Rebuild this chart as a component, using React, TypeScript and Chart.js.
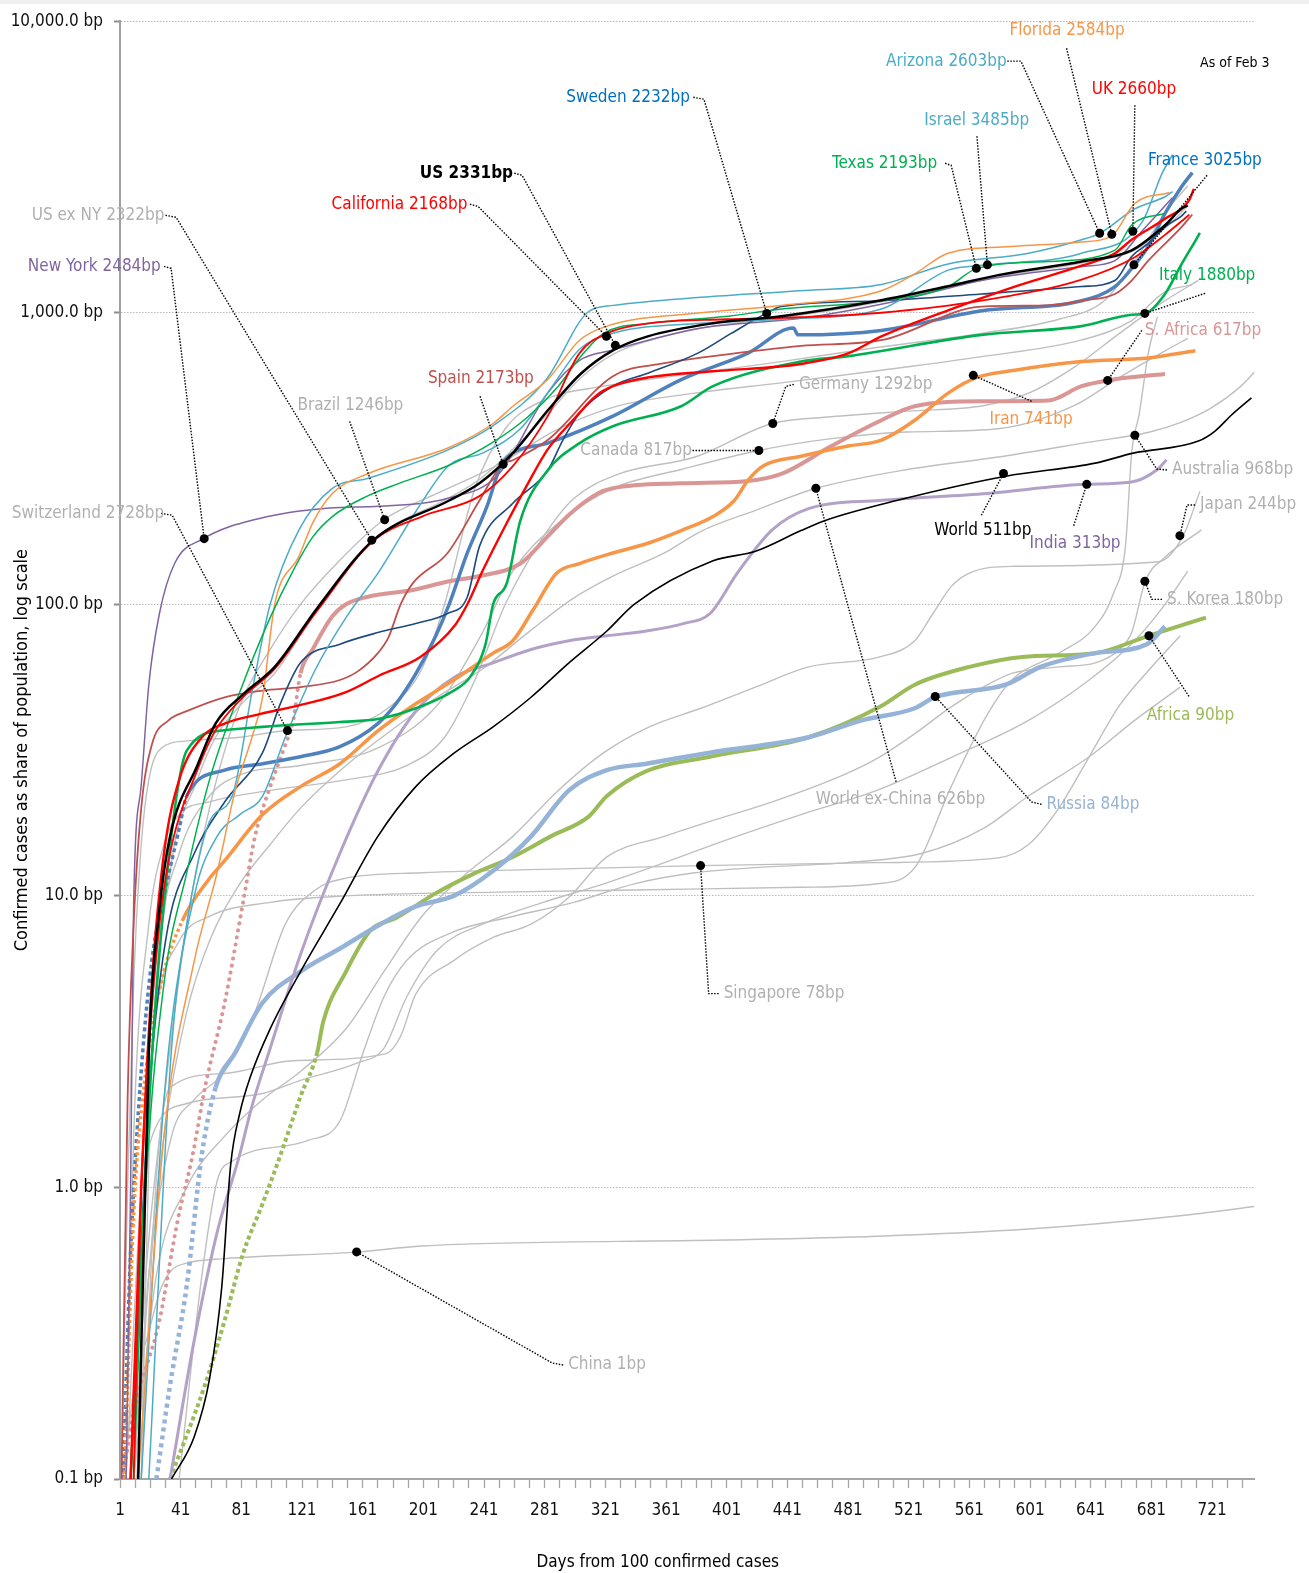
import React, { useEffect, useRef } from "react";
import { Chart, registerables } from "chart.js";

Chart.register(...registerables);

const FONT = "'Liberation Sans Narrow', 'Arial Narrow', 'DejaVu Sans Condensed', sans-serif";
const LABEL_SIZE = 17;

type Pt = [number, number];

// ---------- axis ----------
const X_MIN = 1;
const X_MAX = 749;
const X_TICK_STEP = 10;
const X_LABEL_STEP = 40;
const Y_TICKS = [0.1, 1, 10, 100, 1000, 10000];
const X_TITLE = "Days from 100 confirmed cases";
const Y_TITLE = "Confirmed cases as share of population, log scale";
const AS_OF = "As of Feb 3";

// ---------- series: [day, basis points] ----------
const US: Pt[] = [[13,0.1],[20,2.9],[27,9],[34,16],[52,28],[64,39],[82,49],[103,61],[131,97],[168,166],[218,227],[238,260],[260,330],[283,462],[305,619],[326,743],[349,830],[392,920],[437,973],[503,1104],[547,1233],[580,1346],[635,1500],[668,1637],[690,1995],[701,2281],[705,2331]];
const US_EX_NY: Pt[] = [[15,0.1],[21,2],[34,12],[52,25],[64,35],[82,46],[103,58],[131,96],[168,166],[218,232],[238,268],[260,340],[283,450],[305,600],[326,720],[349,800],[392,900],[437,960],[503,1090],[547,1220],[580,1330],[635,1480],[668,1620],[690,1950],[705,2322]];
const NEW_YORK: Pt[] = [[5,0.1],[8,1],[10,9.4],[15,24],[20,53],[27,93],[37,138],[56,168],[93,197],[139,214],[172,217],[217,231],[250,277],[283,530],[304,687],[326,745],[384,886],[450,957],[514,1100],[569,1290],[635,1440],[657,1510],[675,1910],[693,2420],[695,2484]];
const CALIFORNIA: Pt[] = [[10,0.1],[15,1],[20,3],[27,8],[34,14],[52,27],[64,37],[82,48],[103,60],[131,95],[168,165],[200,200],[238,235],[260,298],[283,442],[304,727],[322,850],[350,920],[400,950],[450,965],[503,1000],[569,1100],[635,1300],[670,1550],[690,1850],[706,2168]];
const TEXAS: Pt[] = [[10,0.1],[18,1],[30,5],[45,12],[60,25],[80,50],[100,90],[115,130],[128,170],[141,200],[164,235],[185,260],[218,300],[247,360],[270,440],[290,560],[304,700],[320,850],[350,920],[400,970],[437,1030],[503,1100],[547,1230],[566,1420],[613,1500],[657,1640],[668,2000],[690,2193]];
const FLORIDA: Pt[] = [[13,0.1],[30,1.5],[50,6],[65,12],[77,23],[88,35],[95,48],[103,100],[119,146],[128,190],[141,240],[164,280],[218,345],[247,417],[260,478],[283,590],[304,805],[322,900],[384,1000],[437,1060],[503,1190],[525,1360],[547,1600],[591,1690],[635,1750],[655,1840],[670,2370],[693,2584]];
const ARIZONA: Pt[] = [[15,0.1],[30,2],[45,8],[60,18],[75,22],[88,50],[100,100],[119,180],[141,250],[164,270],[218,340],[247,410],[282,590],[310,1010],[326,1060],[384,1130],[449,1190],[503,1250],[547,1470],[600,1600],[635,1780],[647,1873],[670,2270],[690,2500],[695,2603]];
const ISRAEL: Pt[] = [[20,0.1],[35,3],[50,10],[65,16],[80,19],[95,22],[110,35],[130,60],[150,90],[172,130],[199,220],[218,300],[240,330],[265,400],[285,550],[304,750],[326,850],[384,920],[437,950],[503,1030],[547,1400],[573,1460],[635,1600],[675,2050],[688,3000],[695,3485]];
const SWEDEN: Pt[] = [[8,0.1],[20,2],[31,7],[50,14],[70,21],[95,31],[107,46],[120,63],[146,73],[171,80],[196,86],[217,93],[230,106],[238,158],[260,222],[283,288],[293,366],[304,452],[326,560],[349,620],[382,727],[404,850],[427,995],[437,1050],[503,1100],[569,1160],[635,1230],[657,1290],[668,1560],[679,1730],[690,1970],[701,2150],[704,2232]];
const FRANCE: Pt[] = [[3,0.1],[8,0.6],[15,2.5],[22,6],[30,10],[40,17],[45,22],[70,27],[95,28.4],[120,30],[146,32.5],[171,39],[183,45.6],[196,57.7],[209,77.5],[218,100],[230,150],[243,217],[252,298],[260,330],[283,357],[326,442],[371,590],[415,727],[445,886],[448,840],[503,870],[569,1016],[635,1100],[657,1230],[670,1460],[679,1690],[690,2190],[701,2710],[708,3025]];
const UK: Pt[] = [[8,0.1],[15,1],[22,5],[30,14],[40,25],[55,35],[70,39],[93,42],[119,45],[150,50],[172,57],[199,66],[222,85],[230,100],[240,130],[256,190],[270,260],[283,340],[300,430],[315,520],[326,560],[349,600],[392,630],[450,667],[481,725],[503,830],[547,1020],[591,1230],[635,1450],[657,1600],[668,1780],[690,2100],[706,2440],[709,2660]];
const SPAIN: Pt[] = [[2,0.1],[6,2],[10,8],[15,20],[22,33],[33,40],[45,43],[70,48],[95,50.6],[120,52],[146,55],[158,59],[171,68],[178,77],[186,100],[194,118],[217,150],[238,227],[253,302],[260,312],[283,366],[326,606],[359,670],[392,710],[450,770],[503,805],[569,1050],[613,1060],[635,1100],[657,1160],[668,1290],[679,1510],[701,1970],[708,2173]];
const ITALY: Pt[] = [[8,0.1],[20,1.9],[30,9.4],[45,31.5],[70,37],[95,38],[146,39.5],[171,40.4],[196,44],[221,50.6],[232,56.5],[242,73],[247,100],[256,118],[265,194],[283,288],[304,357],[326,408],[371,478],[392,560],[450,680],[481,710],[569,840],[635,900],[668,985],[677,995],[690,1160],[701,1470],[712,1840],[713,1880]];
const S_AFRICA: Pt[] = [[3,0.1],[9,0.16],[27,0.35],[39,0.77],[49,1.3],[57,2.2],[70,4.3],[82,9.4],[90,16],[100,23.7],[110,33],[115,39.5],[120,58],[128,70],[141,91],[150,100],[164,106],[194,112],[218,120],[238,125],[265,138],[283,171],[298,205],[316,240],[326,250],[371,260],[415,265],[437,280],[470,349],[503,428],[525,478],[569,497],[613,500],[635,560],[652,586],[690,617]];
const IRAN: Pt[] = [[4,0.1],[10,0.8],[18,2.5],[28,5],[42,8.2],[59,11.3],[70,13.2],[95,19],[120,23.7],[146,28.4],[171,36.8],[196,45.6],[221,55],[247,68],[260,75],[273,95],[289,128],[304,138],[326,150],[349,162],[371,179],[392,200],[406,227],[415,266],[425,298],[450,322],[481,349],[503,366],[525,428],[547,530],[566,600],[591,635],[635,680],[679,700],[710,741]];
const INDIA: Pt[] = [[34,0.1],[50,0.3],[65,0.7],[80,1.3],[88,1.9],[100,3],[120,6.3],[146,14],[171,26.8],[196,43],[221,56],[247,63],[272,70],[297,75],[322,78],[348,81],[373,86],[390,93],[408,128],[431,180],[455,213],[502,227],[573,240],[638,258],[667,262],[685,290],[691,313]];
const RUSSIA: Pt[] = [[25,0.1],[34,0.21],[45,0.46],[55,1.3],[64,2.2],[77,2.9],[95,4.3],[120,5.5],[146,6.6],[171,7.9],[196,9.2],[221,10],[247,12.2],[272,16],[297,23],[322,27],[348,28.4],[390,31],[455,35],[490,40],[525,44],[538,48],[585,53],[608,61],[644,68],[678,73],[690,84]];
const AFRICA: Pt[] = [[34,0.1],[57,0.21],[70,0.35],[82,0.59],[95,0.88],[107,1.3],[120,2.05],[131,2.9],[135,3.7],[150,5.5],[166,7.6],[183,8.4],[209,10.2],[234,11.9],[260,13.6],[285,16],[310,18.7],[322,22],[348,26.8],[390,30],[455,35],[502,44.5],[525,53],[561,61],[596,66],[644,68],[679,78],[717,90]];
const WORLD: Pt[] = [[35,0.1],[50,0.14],[60,0.22],[68,0.45],[74,1.2],[80,1.8],[87,2.4],[100,3.5],[120,5.5],[146,9.4],[171,16],[196,23.7],[221,30.8],[247,38],[272,48],[297,63],[322,81],[340,100],[392,141],[420,152],[450,179],[466,194],[513,227],[585,275],[644,305],[669,330],[712,363],[723,393],[734,447],[747,511]];
const WORLD_EX_CHINA: Pt[] = [[12,0.1],[20,0.5],[30,1.5],[45,4],[60,7],[80,11],[100,15],[120,20],[150,28],[180,37],[210,48],[240,60],[270,80],[300,105],[326,125],[360,150],[384,178],[420,210],[460,250],[520,290],[580,320],[640,360],[680,390],[700,420],[720,470],[740,560],[749,626]];
const BRAZIL: Pt[] = [[10,0.1],[18,0.5],[30,2],[45,8],[60,20],[80,45],[100,70],[120,100],[145,140],[175,195],[210,240],[250,300],[290,400],[330,480],[380,530],[437,575],[503,635],[569,707],[635,807],[668,940],[690,1180],[708,1246]];
const SWITZERLAND: Pt[] = [[2,0.1],[6,1],[10,5],[15,15],[20,25],[28,32],[45,34],[80,35],[111,36.9],[150,38],[180,45],[200,60],[215,100],[235,250],[255,400],[280,500],[320,560],[380,620],[437,680],[500,760],[569,850],[620,950],[650,1100],[670,1500],[690,2200],[705,2728]];
const GERMANY: Pt[] = [[5,0.1],[10,1.5],[20,8],[30,15],[40,19],[60,21],[100,23],[150,25],[190,28],[215,35],[235,55],[255,100],[280,170],[300,230],[330,280],[380,320],[431,417],[470,440],[520,460],[570,480],[600,530],[630,650],[660,850],[690,1100],[712,1292]];
const CANADA: Pt[] = [[8,0.1],[15,1],[25,6],[40,14],[60,22],[80,26],[120,28],[170,32],[210,45],[240,80],[260,130],[290,190],[326,250],[371,290],[422,337],[470,370],[520,390],[580,400],[630,480],[660,600],[690,740],[705,817]];
const AUSTRALIA: Pt[] = [[5,0.1],[15,1],[25,4],[40,7],[60,8.5],[100,9.5],[150,10],[250,10.3],[350,10.5],[450,10.7],[500,11],[525,12.5],[549,23.7],[573,42],[589,55],[620,68],[644,84],[656,109],[664,160],[668,330],[673,450],[679,727],[685,968]];
const JAPAN: Pt[] = [[10,0.1],[25,0.5],[45,1],[70,1.5],[95,2],[120,2.5],[150,3.5],[175,5.5],[200,8.5],[230,12],[260,16],[290,23],[320,31],[350,38],[384,44],[420,52],[455,61],[502,66],[525,75],[537,93],[549,115],[561,128],[590,135],[686,140],[702,172],[713,244]];
const S_KOREA: Pt[] = [[15,0.1],[22,0.6],[27,1.45],[34,2.2],[70,2.46],[115,2.72],[176,2.87],[186,3.3],[196,4.6],[221,6],[247,7.2],[272,8],[297,9.9],[322,13.6],[360,16],[390,18],[431,21],[478,26],[502,30],[525,36],[549,44.5],[573,53],[589,58],[620,61],[644,63],[660,70],[668,80],[677,120],[690,145],[714,180]];
const SINGAPORE: Pt[] = [[10,0.1],[20,0.5],[35,1.5],[50,2],[70,2.5],[90,4],[110,8],[130,10.5],[150,11.5],[200,12],[300,12.4],[384,12.7],[500,13],[580,13.5],[600,15],[620,20],[640,30],[660,45],[680,60],[700,78]];
const CHINA: Pt[] = [[3,0.1],[10,0.2],[20,0.32],[28,0.45],[35,0.52],[45,0.55],[70,0.57],[157,0.6],[200,0.63],[400,0.66],[500,0.68],[600,0.72],[700,0.8],[749,0.86]];
const OTHER_A: Pt[] = [[10,0.1],[16,0.8],[22,1.49],[45,1.94],[95,2.1],[120,2.33],[158,2.68],[175,3],[190,4.5],[210,6.5],[240,8],[280,9.5],[320,11],[360,13],[400,15.5],[450,19],[500,23],[550,30],[600,40],[640,55],[670,75],[690,100],[705,130]];
const OTHER_B: Pt[] = [[40,0.1],[55,0.5],[65,1.05],[75,1.23],[125,1.45],[146,1.69],[161,2.87],[175,4.5],[190,6],[220,7.5],[260,8.5],[300,9.5],[340,11],[380,12],[420,12.5],[480,13],[530,14],[570,17],[600,22],[640,30],[670,40],[700,52]];

// ---------- styles ----------
const GRAY = "#bfbfbf";
const GRAY_TEXT = "#b0b0b0";
type Spec = { pts: Pt[]; color: string; width: number; order: number; dashUntil?: number; dash?: number[]; cap?: CanvasLineCap };
const SPECS: Spec[] = [
  { pts: US, color: "#000000", width: 2.5, order: 0 },
  { pts: CALIFORNIA, color: "#ff0000", width: 1.8, order: 1 },
  { pts: UK, color: "#ff0000", width: 2.4, order: 1 },
  { pts: TEXAS, color: "#00b050", width: 1.5, order: 1 },
  { pts: ITALY, color: "#00b050", width: 2.6, order: 1 },
  { pts: FLORIDA, color: "#f79646", width: 1.5, order: 1 },
  { pts: IRAN, color: "#f79646", width: 3.5, order: 2, dashUntil: 42, dash: [3, 3] },
  { pts: ARIZONA, color: "#4bacc6", width: 1.5, order: 1 },
  { pts: ISRAEL, color: "#4bacc6", width: 1.5, order: 1 },
  { pts: SWEDEN, color: "#1f497d", width: 1.6, order: 1 },
  { pts: FRANCE, color: "#4f81bd", width: 3.5, order: 2, dashUntil: 55, dash: [4, 3] },
  { pts: SPAIN, color: "#c0504d", width: 1.8, order: 1 },
  { pts: S_AFRICA, color: "#d99694", width: 4, order: 2, dashUntil: 120, dash: [0.1, 7], cap: "round" },
  { pts: NEW_YORK, color: "#8064a2", width: 1.5, order: 1 },
  { pts: INDIA, color: "#b3a2c7", width: 3, order: 2 },
  { pts: RUSSIA, color: "#95b3d7", width: 4.5, order: 2, dashUntil: 70, dash: [4, 4] },
  { pts: AFRICA, color: "#9bbb59", width: 4, order: 2, dashUntil: 131, dash: [4, 3] },
  { pts: WORLD, color: "#000000", width: 1.6, order: 1 },
  { pts: US_EX_NY, color: GRAY, width: 1.4, order: 5 },
  { pts: WORLD_EX_CHINA, color: GRAY, width: 1.4, order: 5 },
  { pts: BRAZIL, color: GRAY, width: 1.4, order: 5 },
  { pts: SWITZERLAND, color: GRAY, width: 1.4, order: 5 },
  { pts: GERMANY, color: GRAY, width: 1.4, order: 5 },
  { pts: CANADA, color: GRAY, width: 1.4, order: 5 },
  { pts: AUSTRALIA, color: GRAY, width: 1.4, order: 5 },
  { pts: JAPAN, color: GRAY, width: 1.4, order: 5 },
  { pts: S_KOREA, color: GRAY, width: 1.4, order: 5 },
  { pts: SINGAPORE, color: GRAY, width: 1.4, order: 5 },
  { pts: CHINA, color: GRAY, width: 1.4, order: 5 },
  { pts: OTHER_A, color: GRAY, width: 1.4, order: 5 },
  { pts: OTHER_B, color: GRAY, width: 1.4, order: 5 },
];

// ---------- annotations (data coordinates: [day, bp]) ----------
type Ann = { text: string; color: string; at: Pt; path: Pt[]; bold?: boolean };
const ANNOTATIONS: Ann[] = [
  { text: "Florida 2584bp", color: "#f79646", at: [587.4, 9311], path: [[625.1, 8075], [654.9, 1858]] },
  { text: "Arizona 2603bp", color: "#4bacc6", at: [506.1, 7295], path: [[586, 7295], [595, 7295], [646.9, 1873]] },
  { text: "UK 2660bp", color: "#ff0000", at: [641.7, 5843], path: [[670.1, 5149], [668.8, 1903]] },
  { text: "Sweden 2232bp", color: "#0070c0", at: [295.2, 5483], path: [[379, 5483], [386, 5400], [427.4, 995]] },
  { text: "Israel 3485bp", color: "#4bacc6", at: [531.2, 4571], path: [[566, 4031], [572.9, 1460]] },
  { text: "France 3025bp", color: "#0070c0", at: [678.7, 3334], path: [[717.7, 2961], [669.5, 1460]] },
  { text: "Texas 2193bp", color: "#00b050", at: [470.4, 3256], path: [[545, 3256], [549, 3204], [565.6, 1420]] },
  { text: "US 2331bp", color: "#000000", at: [198.7, 3009], path: [[261, 3009], [266.1, 2961], [327.6, 773]], bold: true },
  { text: "California 2168bp", color: "#ff0000", at: [140.5, 2355], path: [[231.7, 2355], [237, 2318], [321.7, 830]] },
  { text: "US ex NY 2322bp", color: GRAY_TEXT, at: [-57.2, 2159], path: [[31, 2159], [38, 2125], [167, 166]] },
  { text: "New York 2484bp", color: "#8064a2", at: [-59.8, 1442], path: [[30, 1442], [34.7, 1420], [56.5, 168]] },
  { text: "Italy 1880bp", color: "#00b050", at: [686, 1344], path: [[716.4, 1166], [676.7, 995]] },
  { text: "S. Africa 617bp", color: "#d99694", at: [676.7, 870], path: [[674.7, 870], [652.2, 586]] },
  { text: "Spain 2173bp", color: "#c0504d", at: [204, 596], path: [[238.4, 517], [253.6, 302]] },
  { text: "Germany 1292bp", color: GRAY_TEXT, at: [448.6, 568], path: [[445.3, 568], [440, 559], [431.4, 417]] },
  { text: "Brazil 1246bp", color: GRAY_TEXT, at: [118, 481], path: [[152.4, 424], [175.5, 195]] },
  { text: "Iran 741bp", color: "#f79646", at: [574.2, 431], path: [[602, 497], [563.6, 610]] },
  { text: "Canada 817bp", color: GRAY_TEXT, at: [304.5, 337], path: [[378.5, 337], [422.2, 337]] },
  { text: "Australia 968bp", color: GRAY_TEXT, at: [694.6, 289], path: [[691.3, 289], [684.6, 291], [670.1, 380]] },
  { text: "Japan 244bp", color: GRAY_TEXT, at: [713.1, 219], path: [[709.8, 219], [704.5, 219], [699.8, 172]] },
  { text: "Switzerland 2728bp", color: GRAY_TEXT, at: [-70.4, 205], path: [[28.1, 205], [35.4, 202], [111.4, 36.9]] },
  { text: "World 511bp", color: "#000000", at: [537.9, 179], path: [[568.9, 202], [583.5, 281]] },
  { text: "India 313bp", color: "#8064a2", at: [600.7, 162], path: [[629.8, 186], [638.4, 258]] },
  { text: "S. Korea 180bp", color: GRAY_TEXT, at: [691.3, 104], path: [[688, 104], [681.3, 104], [676.7, 120]] },
  { text: "Africa 90bp", color: "#9bbb59", at: [678, 41.5], path: [[705.8, 48.3], [679.4, 78]] },
  { text: "World ex-China 626bp", color: GRAY_TEXT, at: [459.8, 21.4], path: [[512.7, 24.6], [459.8, 250]] },
  { text: "Russia 84bp", color: "#95b3d7", at: [611.9, 20.6], path: [[608.6, 20.6], [602, 21], [538.5, 48.3]] },
  { text: "Singapore 78bp", color: GRAY_TEXT, at: [399, 4.62], path: [[395.7, 4.62], [389.1, 4.62], [383.8, 12.7]] },
  { text: "China 1bp", color: GRAY_TEXT, at: [296.5, 0.246], path: [[293.2, 0.246], [286, 0.25], [157, 0.601]] },
];
const AS_OF_AT: Pt = [713.1, 7174];

const xTicks: number[] = [];
for (let v = X_MIN; v < X_MAX; v += X_TICK_STEP) xTicks.push(v);

const fmtY = (v: number) =>
  Number(v).toLocaleString("en-US", { minimumFractionDigits: 1, maximumFractionDigits: 1 }) + " bp";

const annotationPlugin = {
  id: "annotationsCustom",
  afterDraw(chart: any) {
    const { ctx, scales, chartArea } = chart;
    const xs = scales.x;
    const ys = scales.y;
    const X = (d: number) => xs.getPixelForValue(d);
    const Y = (v: number) => ys.getPixelForValue(v);
    ctx.save();
    ctx.strokeStyle = "#000";
    ctx.lineWidth = 1.4;
    ctx.setLineDash([1.5, 1.5]);
    for (const a of ANNOTATIONS) {
      ctx.beginPath();
      a.path.forEach((p, i) => {
        if (i === 0) ctx.moveTo(X(p[0]), Y(p[1]));
        else ctx.lineTo(X(p[0]), Y(p[1]));
      });
      ctx.stroke();
    }
    ctx.setLineDash([]);
    ctx.fillStyle = "#000";
    for (const a of ANNOTATIONS) {
      const d = a.path[a.path.length - 1];
      ctx.beginPath();
      ctx.arc(X(d[0]), Y(d[1]), 4.5, 0, Math.PI * 2);
      ctx.fill();
    }
    ctx.textBaseline = "middle";
    ctx.textAlign = "left";
    for (const a of ANNOTATIONS) {
      ctx.font = `${a.bold ? "bold " : ""}${LABEL_SIZE}px ${FONT}`;
      ctx.fillStyle = a.color;
      ctx.fillText(a.text, X(a.at[0]), Y(a.at[1]));
    }
    ctx.font = `14px ${FONT}`;
    ctx.fillStyle = "#000";
    ctx.fillText(AS_OF, X(AS_OF_AT[0]), Y(AS_OF_AT[1]));
    ctx.font = `17px ${FONT}`;
    ctx.fillStyle = "#000";
    ctx.textAlign = "center";
    ctx.fillText(X_TITLE, chartArea.left + (chartArea.right - chartArea.left) * 0.474, 1563);
    ctx.translate(22, (chartArea.top + chartArea.bottom) / 2);
    ctx.rotate(-Math.PI / 2);
    ctx.font = `18px ${FONT}`;
    ctx.fillText(Y_TITLE, 0, 0);
    ctx.restore();
  },
};

export default function App() {
  const ref = useRef<HTMLCanvasElement | null>(null);
  useEffect(() => {
    if (!ref.current) return;
    const datasets = SPECS.map((s) => ({
      data: s.pts.map(([x, y]) => ({ x, y })),
      borderColor: s.color,
      backgroundColor: s.color,
      borderWidth: s.width,
      pointRadius: 0,
      fill: false,
      order: s.order,
      cubicInterpolationMode: "monotone" as const,
      borderCapStyle: "butt" as const,
      borderJoinStyle: "round" as const,
      segment: s.dashUntil
        ? {
            borderDash: (c: any) => (c.p1.parsed.x <= (s.dashUntil as number) ? s.dash : []),
            borderCapStyle: (c: any) => (c.p1.parsed.x <= (s.dashUntil as number) ? s.cap || "butt" : "butt"),
          }
        : undefined,
    }));
    const chart = new Chart(ref.current, {
      type: "line",
      data: { datasets },
      options: {
        animation: false,
        responsive: false,
        devicePixelRatio: 1,
        events: [],
        layout: { padding: { top: 19, right: 54.5, bottom: 0, left: 0 } },
        plugins: { legend: { display: false }, tooltip: { enabled: false }, title: { display: false } },
        scales: {
          x: {
            type: "linear",
            min: X_MIN,
            max: X_MAX,
            afterBuildTicks: (s: any) => {
              s.ticks = xTicks.map((v) => ({ value: v }));
            },
            afterFit: (s: any) => {
              s.height = 94;
            },
            ticks: {
              autoSkip: false,
              maxRotation: 0,
              minRotation: 0,
              padding: 12,
              color: "#111",
              font: { family: FONT, size: LABEL_SIZE },
              callback: (v: any) => ((Number(v) - X_MIN) % X_LABEL_STEP === 0 ? String(v) : ""),
            },
            grid: {
              drawOnChartArea: false,
              drawTicks: true,
              tickLength: 9,
              tickColor: "#a6a6a6",
              tickWidth: 1.3,
            },
            border: { display: true, color: "#a6a6a6", width: 2 },
          },
          y: {
            type: "logarithmic",
            min: 0.1,
            max: 10000,
            afterBuildTicks: (s: any) => {
              s.ticks = Y_TICKS.map((v) => ({ value: v }));
            },
            afterFit: (s: any) => {
              s.width = 120;
            },
            ticks: {
              autoSkip: false,
              padding: 11,
              color: "#111",
              font: { family: FONT, size: LABEL_SIZE },
              callback: (v: any) => fmtY(Number(v)),
            },
            grid: {
              drawOnChartArea: true,
              drawTicks: true,
              tickLength: 6,
              color: "#b8b8b8",
              lineWidth: 1,
              tickColor: "#8c8c8c",
              tickWidth: 2,
            },
            border: { display: true, color: "#a0a0a0", width: 2, dash: [1.5, 1.5] },
          },
        },
      },
      plugins: [annotationPlugin],
    } as any);
    return () => chart.destroy();
  }, []);
  return (
    <div style={{ position: "absolute", left: 0, top: 0, width: 1309, height: 1573, background: "#fff" }}>
      <div style={{ position: "absolute", left: 0, top: 0, width: 1309, height: 4, background: "#f0f0f0" }} />
      <canvas ref={ref} width={1309} height={1573} style={{ width: 1309, height: 1573, display: "block" }} />
    </div>
  );
}
